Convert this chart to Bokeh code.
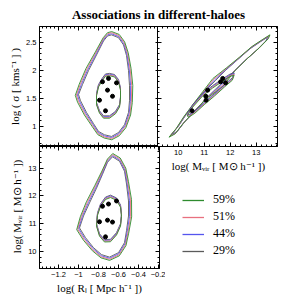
import math
from bokeh.plotting import figure
from bokeh.layouts import column, row
from bokeh.models import (Range1d, LinearAxis, SingleIntervalTicker,
                          CustomJSTickFormatter, Label, Legend, LegendItem)
from bokeh.embed import file_html
from bokeh.resources import INLINE

# ---------------- data ----------------
series_labels = ["59%", "51%", "44%", "29%"]
series_colors = ["#2e8b2e", "#e8707f", "#5555ee", "#5a5a5a"]
# how far (px) each series' contour sits outside / below the 29% one
outer_offset_px = [3.3, 2.2, 1.1, 0.0]
inner_drop_px = [2.4, 1.6, 0.8, 0.0]

obj_logR = [-0.76, -0.70, -0.62, -0.71, -0.66, -0.79, -0.73]
obj_logsigma = [1.80, 1.86, 1.78, 1.65, 1.54, 1.47, 1.28]
obj_logM = [11.63, 11.71, 11.82, 11.13, 11.06, 11.07, 10.53]

tl_outer_R = [-0.67, -0.60, -0.55, -0.52, -0.50, -0.49, -0.49, -0.50, -0.54, -0.60, -0.67,
              -0.74, -0.80, -0.85, -0.92, -0.98, -1.00, -0.96, -0.90, -0.82, -0.75, -0.71]
tl_outer_S = [2.64, 2.59, 2.46, 2.27, 2.00, 1.73, 1.46, 1.25, 1.03, 0.89, 0.82,
              0.85, 0.91, 1.05, 1.25, 1.46, 1.57, 1.75, 2.00, 2.28, 2.53, 2.62]
tl_inner_R = [-0.69, -0.64, -0.60, -0.58, -0.58, -0.59, -0.63, -0.69, -0.75, -0.79,
              -0.82, -0.82, -0.80, -0.76, -0.73]
tl_inner_S = [1.95, 1.93, 1.84, 1.69, 1.53, 1.39, 1.27, 1.19, 1.19, 1.28,
              1.43, 1.59, 1.75, 1.87, 1.94]

tr_outer_M = [9.73, 10.00, 10.30, 10.68, 11.06, 11.43, 11.81, 12.27, 12.76, 13.14,
              13.44, 13.37, 13.03, 12.57, 12.08, 11.62, 11.13, 10.68, 10.26, 9.96]
tr_outer_S = [0.85, 1.00, 1.21, 1.44, 1.65, 1.82, 2.00, 2.19, 2.39, 2.51,
              2.60, 2.53, 2.37, 2.18, 1.96, 1.75, 1.53, 1.30, 1.09, 0.91]
tr_inner_M = [10.34, 10.56, 10.94, 11.32, 11.70, 12.00, 12.15, 12.08, 11.78,
              11.40, 11.02, 10.64, 10.41]
tr_inner_S = [1.23, 1.39, 1.59, 1.73, 1.85, 1.94, 1.96, 1.87, 1.75,
              1.59, 1.44, 1.28, 1.21]

bl_outer_R = [-0.66, -0.59, -0.54, -0.52, -0.50, -0.50, -0.52, -0.54, -0.60, -0.69,
              -0.77, -0.85, -0.93, -0.99, -0.95, -0.89, -0.82, -0.76, -0.71]
bl_outer_M = [13.41, 13.25, 12.89, 12.43, 11.82, 11.28, 10.75, 10.32, 9.96, 9.80,
              9.89, 10.14, 10.50, 10.85, 11.28, 11.75, 12.28, 12.78, 13.21]
bl_inner_R = [-0.68, -0.62, -0.58, -0.57, -0.58, -0.62, -0.68, -0.74, -0.79, -0.82,
              -0.81, -0.78, -0.73]
bl_inner_M = [12.03, 11.93, 11.68, 11.35, 11.00, 10.68, 10.44, 10.43, 10.64, 11.00,
              11.39, 11.71, 11.96]

title_text = "Associations in different-haloes"
label_R = "log( R\u2097 [ Mpc h\u207b\u00b9 ])"
label_sigma = "log ( \u03c3 [ kms\u207b\u00b9 ] )"
label_M = "log( M\u1d65\u1d62\u1d63 [ M\u2299 h\u207b\u00b9 ])"

SERIF = "Liberation Serif"
SANS = "Liberation Sans"
FW = 120

x_R = Range1d(-1.39, -0.19)
y_S = Range1d(0.64, 2.79)
y_M = Range1d(9.39, 13.78)
x_M = Range1d(9.2, 13.82)


def add_axis(p, side, interval, show_labels, label=None):
    ax = LinearAxis(ticker=SingleIntervalTicker(interval=interval, num_minor_ticks=5))
    ax.major_tick_in = 4
    ax.major_tick_out = 0
    ax.minor_tick_in = 2
    ax.minor_tick_out = 0
    ax.axis_line_color = "black"
    ax.major_tick_line_color = "black"
    ax.minor_tick_line_color = "black"
    if show_labels:
        ax.formatter = CustomJSTickFormatter(
            code="const v = Math.round(tick*10)/10; return String(v).replace('-', '\u2212');")
        ax.major_label_text_font = SANS
        ax.major_label_text_font_size = "7.5px"
        ax.major_label_standoff = 3
        ax.major_label_text_color = "black"
    else:
        ax.formatter = CustomJSTickFormatter(code="return '';")
        ax.major_label_standoff = 0
    if label:
        ax.axis_label = label
        ax.axis_label_text_font = SERIF
        ax.axis_label_text_font_size = "11px"
        ax.axis_label_text_font_style = "normal"
        ax.axis_label_standoff = 2
        ax.axis_label_text_color = "black"
    p.add_layout(ax, side)


def panel(xr, yr, fh, left, bottom, right, top):
    p = figure(x_range=xr, y_range=yr, frame_width=FW, frame_height=fh,
               min_border_left=left, min_border_right=right, min_border_top=top,
               min_border_bottom=bottom, toolbar_location=None, output_backend="svg",
               x_axis_location=None, y_axis_location=None)
    p.grid.visible = False
    p.outline_line_color = "black"
    p.outline_line_width = 1
    p.border_fill_color = None
    return p


def draw_contours(p, xs, ys, kind, xr, yr, fh):
    kx = FW / (xr.end - xr.start)
    ky = fh / (yr.end - yr.start)
    cx = sum(xs) / len(xs)
    cy = sum(ys) / len(ys)
    for i in range(len(series_colors) - 1, -1, -1):
        col = series_colors[i]
        px, py = [], []
        for x, y in zip(xs, ys):
            if kind == "outer":
                r = math.hypot((x - cx) * kx, (y - cy) * ky)
                f = 1.0 + outer_offset_px[i] / r
                px.append(cx + (x - cx) * f)
                py.append(cy + (y - cy) * f)
            else:
                px.append(x)
                py.append(y - inner_drop_px[i] / ky)
        p.patch(px, py, fill_color=None, line_color=col, line_width=0.9)


# ---------------- panels ----------------
tl = panel(x_R, y_S, 120, 27, 0, 0, 1)
add_axis(tl, "left", 0.5, True, label_sigma)
add_axis(tl, "right", 0.5, False)
add_axis(tl, "above", 0.2, False)
add_axis(tl, "below", 0.2, False)
draw_contours(tl, tl_outer_R, tl_outer_S, "outer", x_R, y_S, 120)
draw_contours(tl, tl_inner_R, tl_inner_S, "inner", x_R, y_S, 120)
tl.scatter(obj_logR, obj_logsigma, size=4, color="black")

tr = panel(x_M, y_S, 120, 0, 27, 1, 1)
add_axis(tr, "left", 0.5, False)
add_axis(tr, "right", 0.5, False)
add_axis(tr, "above", 1, False)
add_axis(tr, "below", 1, True, label_M)
draw_contours(tr, tr_outer_M, tr_outer_S, "outer", x_M, y_S, 120)
draw_contours(tr, tr_inner_M, tr_inner_S, "inner", x_M, y_S, 120)
tr.scatter(obj_logM, obj_logsigma, size=4, color="black")

bl = panel(x_R, y_M, 122, 27, 27, 8, 0)
add_axis(bl, "left", 1, True, label_M)
add_axis(bl, "right", 1, False)
add_axis(bl, "above", 0.2, False)
add_axis(bl, "below", 0.2, True, label_R)
draw_contours(bl, bl_outer_R, bl_outer_M, "outer", x_R, y_M, 122)
draw_contours(bl, bl_inner_R, bl_inner_M, "inner", x_R, y_M, 122)
bl.scatter(obj_logR, obj_logM, size=4, color="black")

# ---------------- legend ----------------
lf = figure(width=121, height=122, x_range=Range1d(0, 1), y_range=Range1d(0, 1),
            min_border=0, toolbar_location=None, output_backend="svg",
            x_axis_location=None, y_axis_location=None)
lf.grid.visible = False
lf.outline_line_color = None
lf.border_fill_color = None
lf.background_fill_color = None
items = []
for lab, col in zip(series_labels, series_colors):
    r = lf.line(x=[float("nan")], y=[float("nan")], line_color=col, line_width=1.3)
    items.append(LegendItem(label=lab, renderers=[r]))
lg = Legend(items=items, location=(25, 38), orientation="vertical",
            glyph_width=22, glyph_height=12, label_height=12, label_width=10,
            spacing=2, padding=0, margin=0, label_standoff=9,
            border_line_color=None, background_fill_alpha=0,
            label_text_font=SERIF, label_text_font_size="12px",
            label_text_color="black")
lf.add_layout(lg)

# ---------------- title ----------------
tf = figure(width=268, height=17, x_range=Range1d(0, 1), y_range=Range1d(0, 1),
            min_border=0, toolbar_location=None, output_backend="svg",
            x_axis_location=None, y_axis_location=None)
tf.grid.visible = False
tf.outline_line_color = None
tf.add_layout(Label(x=152, y=11, x_units="screen", y_units="screen", text=title_text,
                    text_font=SERIF, text_font_style="bold", text_font_size="13px",
                    text_align="center", text_baseline="middle", text_color="black"))

col1 = column(tl, bl)
col2 = column(tr, lf, margin=(0, 0, 0, -8))
layout = column(tf, row(col1, col2), margin=(8, 0, 0, 6))

open("out.html", "w").write(file_html(layout, INLINE))
